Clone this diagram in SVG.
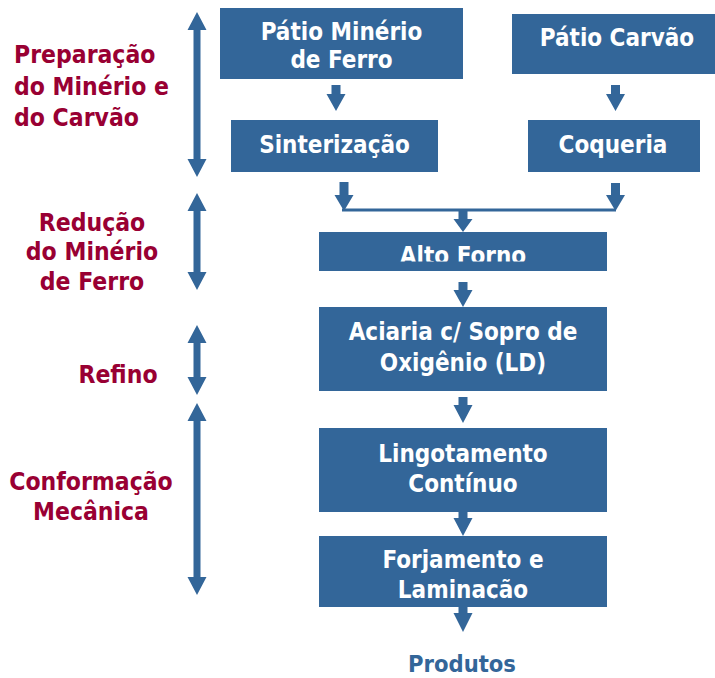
<svg xmlns="http://www.w3.org/2000/svg" width="715" height="678" viewBox="0 0 715 678">
<style>
.box{fill:#336699}
.bt{font-family:"DejaVu Sans Condensed","DejaVu Sans",sans-serif;font-stretch:condensed;font-weight:bold;font-size:24px;fill:#ffffff;text-anchor:middle}
.lt{font-family:"DejaVu Sans Condensed","DejaVu Sans",sans-serif;font-stretch:condensed;font-weight:bold;font-size:24.5px;fill:#990033}
.arr{fill:#336699}
.pt{font-family:"DejaVu Sans Condensed","DejaVu Sans",sans-serif;font-stretch:condensed;font-weight:bold;font-size:23.5px;fill:#336699;text-anchor:middle}
</style>
<defs>
<clipPath id="clipAlto"><rect x="319" y="232" width="288" height="29.5"/></clipPath>
<clipPath id="clipLam"><rect x="319" y="536" width="288" height="62.5"/></clipPath>
</defs>
<rect width="715" height="678" fill="#ffffff"/>

<g id="labels">
<text class="lt" x="14" y="63">Preparação</text>
<text class="lt" x="14" y="95">do Minério e</text>
<text class="lt" x="14" y="126">do Carvão</text>
<text class="lt" x="92" y="231" text-anchor="middle">Redução</text>
<text class="lt" x="92" y="260" text-anchor="middle">do Minério</text>
<text class="lt" x="92" y="290" text-anchor="middle">de Ferro</text>
<text class="lt" x="118" y="383" text-anchor="middle">Refino</text>
<text class="lt" x="91" y="490" text-anchor="middle">Conformação</text>
<text class="lt" x="91" y="520" text-anchor="middle">Mecânica</text>
</g>

<g id="stage-arrows">
<polygon class="arr" points="197,12 206.5,30 200.5,30 200.5,159 206.5,159 197,177 187.5,159 193.5,159 193.5,30 187.5,30"/>
<polygon class="arr" points="197,193 206.5,211 200.5,211 200.5,272 206.5,272 197,290 187.5,272 193.5,272 193.5,211 187.5,211"/>
<polygon class="arr" points="197,325 206.5,343 200.5,343 200.5,377 206.5,377 197,395 187.5,377 193.5,377 193.5,343 187.5,343"/>
<polygon class="arr" points="197,403 206.5,421 200.5,421 200.5,577 206.5,577 197,595 187.5,577 193.5,577 193.5,421 187.5,421"/>
</g>

<g id="patio-minerio">
<rect class="box" x="220" y="8" width="243" height="71"/>
<text class="bt" x="341.5" y="40">Pátio Minério</text>
<text class="bt" x="341.5" y="68">de Ferro</text>
</g>
<g id="patio-carvao">
<rect class="box" x="512" y="14" width="203" height="60"/>
<text class="bt" x="617" y="46">Pátio Carvão</text>
</g>
<g id="sinterizacao">
<rect class="box" x="231" y="120" width="207" height="52"/>
<text class="bt" x="334.5" y="153">Sinterização</text>
</g>
<g id="coqueria">
<rect class="box" x="528" y="120" width="172" height="52"/>
<text class="bt" x="613" y="153">Coqueria</text>
</g>
<g id="alto-forno">
<rect class="box" x="319" y="232" width="288" height="39"/>
<text class="bt" x="463" y="264" clip-path="url(#clipAlto)">Alto Forno</text>
</g>
<g id="aciaria">
<rect class="box" x="319" y="307" width="288" height="84"/>
<text class="bt" x="463" y="340">Aciaria c/ Sopro de</text>
<text class="bt" x="463" y="371">Oxigênio (LD)</text>
</g>
<g id="lingotamento">
<rect class="box" x="319" y="428" width="288" height="84"/>
<text class="bt" x="463" y="462">Lingotamento</text>
<text class="bt" x="463" y="492">Contínuo</text>
</g>
<g id="forjamento">
<rect class="box" x="319" y="536" width="288" height="71"/>
<text class="bt" x="463" y="568">Forjamento e</text>
<text class="bt" x="463" y="598" clip-path="url(#clipLam)">Laminação</text>
</g>
<g id="produtos">
<text class="pt" x="462" y="672">Produtos</text>
</g>

<g id="connectors">
<polygon class="arr" points="331.5,85 340.5,85 340.5,94 345.5,94 336,111 326.5,94 331.5,94"/>
<polygon class="arr" points="611,85 620,85 620,94 625,94 615.5,111 606,94 611,94"/>
<polygon class="arr" points="339.5,182 348.5,182 348.5,195 353.5,195 344,211 334.5,195 339.5,195"/>
<polygon class="arr" points="611,183 620,183 620,195 625,195 615.5,211 606,195 611,195"/>
<rect class="arr" x="342" y="208.5" width="274" height="3"/>
<polygon class="arr" points="458.5,211 467.5,211 467.5,219 472.5,219 463,232 453.5,219 458.5,219"/>
<polygon class="arr" points="458.5,282 467.5,282 467.5,290 472.5,290 463,307 453.5,290 458.5,290"/>
<polygon class="arr" points="458.5,397 467.5,397 467.5,405 472.5,405 463,423 453.5,405 458.5,405"/>
<polygon class="arr" points="458.5,512 467.5,512 467.5,518 472.5,518 463,536 453.5,518 458.5,518"/>
<polygon class="arr" points="458.5,607 467.5,607 467.5,613 472.5,613 463,632 453.5,613 458.5,613"/>
</g>
</svg>
